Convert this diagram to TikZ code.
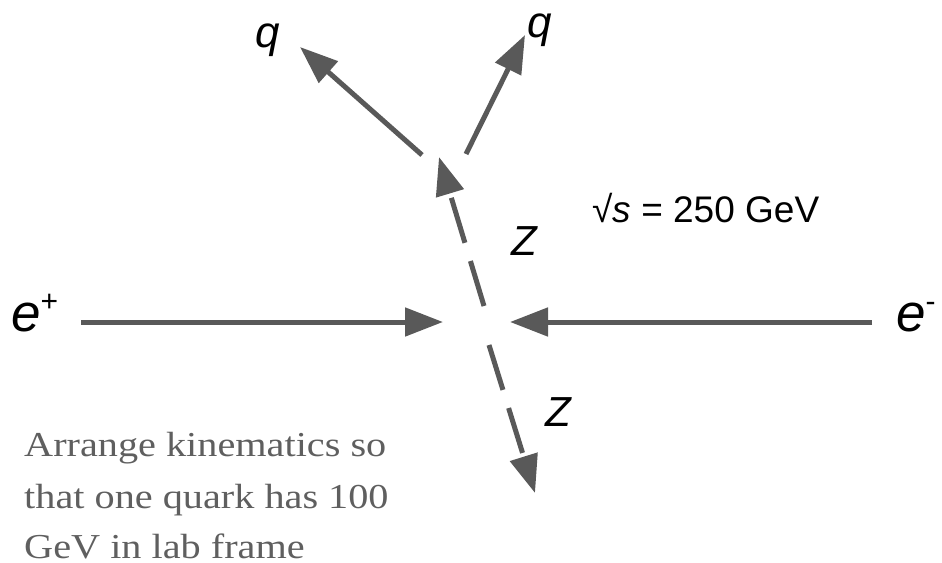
\documentclass[tikz,border=0pt]{standalone}
\usepackage{fontspec}
\setmainfont{Liberation Sans}
\newfontfamily\notefont[FakeStretch=1.15]{Liberation Serif}
\usetikzlibrary{arrows.meta}
\definecolor{arrowgray}{HTML}{595959}
\definecolor{notegray}{HTML}{5f5f5f}
\begin{document}
\begin{tikzpicture}[x=1pt,y=-1pt,
  arr/.style={draw=arrowgray, line width=5pt, -{Triangle[length=38pt,width=28pt]}},
  zarr/.style={arr, dash pattern=on 47pt off 19pt},
  lbl/.style={inner sep=0pt, text=black},
  qlbl/.style={lbl, anchor=base, font=\fontsize{44}{44}\selectfont\itshape},
  zlbl/.style={lbl, anchor=base, font=\fontsize{42}{42}\selectfont\itshape},
  elbl/.style={lbl, anchor=base west, font=\fontsize{53}{53}\selectfont},
  notelbl/.style={inner sep=0pt, anchor=base west, text=notegray, font=\notefont\fontsize{35}{35}\selectfont}]
\useasboundingbox (0,0) rectangle (942,562);
% end points
\coordinate (epS) at (81,322);
\coordinate (vL) at (443,322);
\coordinate (emS) at (872,322);
\coordinate (vR) at (510,322);
\coordinate (zuS) at (484,306);
\coordinate (zuT) at (439,157);
\coordinate (zdS) at (489,345);
\coordinate (zdT) at (535,493);
\coordinate (q1S) at (422,155);
\coordinate (q1T) at (300,47);
\coordinate (q2S) at (466,154);
\coordinate (q2T) at (525,35);
% arrows
\draw[arr] (epS) -- (vL);
\draw[arr] (emS) -- (vR);
\draw[zarr] (zuS) -- (zuT);
\draw[zarr] (zdS) -- (zdT);
\draw[arr] (q1S) -- (q1T);
\draw[arr] (q2S) -- (q2T);
% labels
\node[qlbl] (q1) at (268,47) {q};
\node[qlbl] (q2) at (540,37) {q};
\node[elbl] (ep) at (11,331) {\textit{e}\raisebox{20pt}{\fontsize{30}{30}\selectfont +}};
\node[elbl] (em) at (896,331) {\textit{e}\raisebox{20pt}{\fontsize{30}{30}\selectfont -}};
\node[zlbl] (zu) at (524,255) {Z};
\node[zlbl] (zd) at (558,426) {Z};
\node[lbl, anchor=base west, font=\fontsize{37}{37}\selectfont] (rs) at (592,222) {√\textit{s} = 250 GeV};
\node[notelbl] (n1) at (24,456) {Arrange kinematics so};
\node[notelbl] (n2) at (24,508) {that one quark has 100};
\node[notelbl] (n3) at (24,558) {GeV in lab frame};
\end{tikzpicture}
\end{document}
